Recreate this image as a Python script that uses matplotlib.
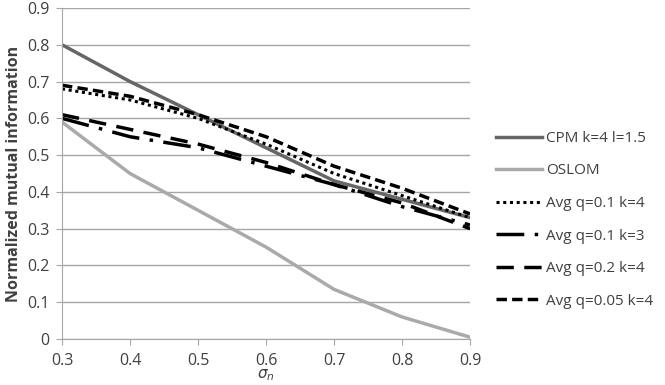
import numpy as np
import matplotlib.pyplot as plt

plt.rcParams['font.family'] = ['Open Sans', 'DejaVu Sans']

x = [0.3, 0.4, 0.5, 0.6, 0.7, 0.8, 0.9]
cpm = [0.80, 0.70, 0.61, 0.52, 0.43, 0.38, 0.33]
oslom = [0.59, 0.45, 0.35, 0.25, 0.135, 0.06, 0.005]
avg_q01_k4 = [0.68, 0.65, 0.60, 0.53, 0.45, 0.39, 0.33]
avg_q01_k3 = [0.60, 0.55, 0.52, 0.47, 0.42, 0.36, 0.31]
avg_q02_k4 = [0.61, 0.57, 0.53, 0.48, 0.42, 0.37, 0.30]
avg_q005_k4 = [0.69, 0.66, 0.61, 0.55, 0.47, 0.41, 0.34]

fig = plt.figure(figsize=(6.65, 3.85), dpi=100)
ax = fig.add_axes([62/665, 46/385, 408/665, 331/385])

ax.plot(x, cpm, color='#666666', lw=2.5, label='CPM k=4 l=1.5')
ax.plot(x, oslom, color='#aaaaaa', lw=2.5, label='OSLOM')
ax.plot(x, avg_q01_k4, color='black', lw=2.2, ls=(0, (1, 1.2)), label='Avg q=0.1 k=4')
ax.plot(x, avg_q01_k3, color='black', lw=2.5, ls=(0, (8, 3, 1, 3)), label='Avg q=0.1 k=3')
ax.plot(x, avg_q02_k4, color='black', lw=2.5, ls=(0, (5, 3)), label='Avg q=0.2 k=4')
ax.plot(x, avg_q005_k4, color='black', lw=2.5, ls=(0, (3, 1.5)), label='Avg q=0.05 k=4')

ax.set_xlim(0.3, 0.9)
ax.set_ylim(0, 0.9)
ax.set_xticks(x)
ax.set_yticks(np.arange(0, 0.91, 0.1))
ax.set_yticklabels(['0'] + ['%.1f' % v for v in np.arange(0.1, 0.91, 0.1)])
ax.grid(axis='y', color='#a6a6a6', lw=1)
ax.set_axisbelow(True)
for s in ['top', 'right']:
    ax.spines[s].set_visible(False)
for s in ['left', 'bottom']:
    ax.spines[s].set_color('#a6a6a6')
ax.tick_params(axis='x', colors='#a6a6a6', labelcolor='#404040', labelsize=11.5, length=4, pad=6)
ax.tick_params(axis='y', colors='#a6a6a6', labelcolor='#404040', labelsize=11.5, length=4, pad=5)
ax.set_xlabel(r'$\sigma_n$', fontsize=11, labelpad=-1, color='#404040')
ax.set_ylabel('Normalized mutual information', fontsize=11.5, fontweight='bold', color='#404040', labelpad=4)

ax.legend(loc='center left', bbox_to_anchor=(1.03, 0.36), frameon=False, fontsize=11,
          handlelength=3.0, labelspacing=1.15, handletextpad=0.3, labelcolor='#404040')

plt.savefig('out.png', dpi=100)
